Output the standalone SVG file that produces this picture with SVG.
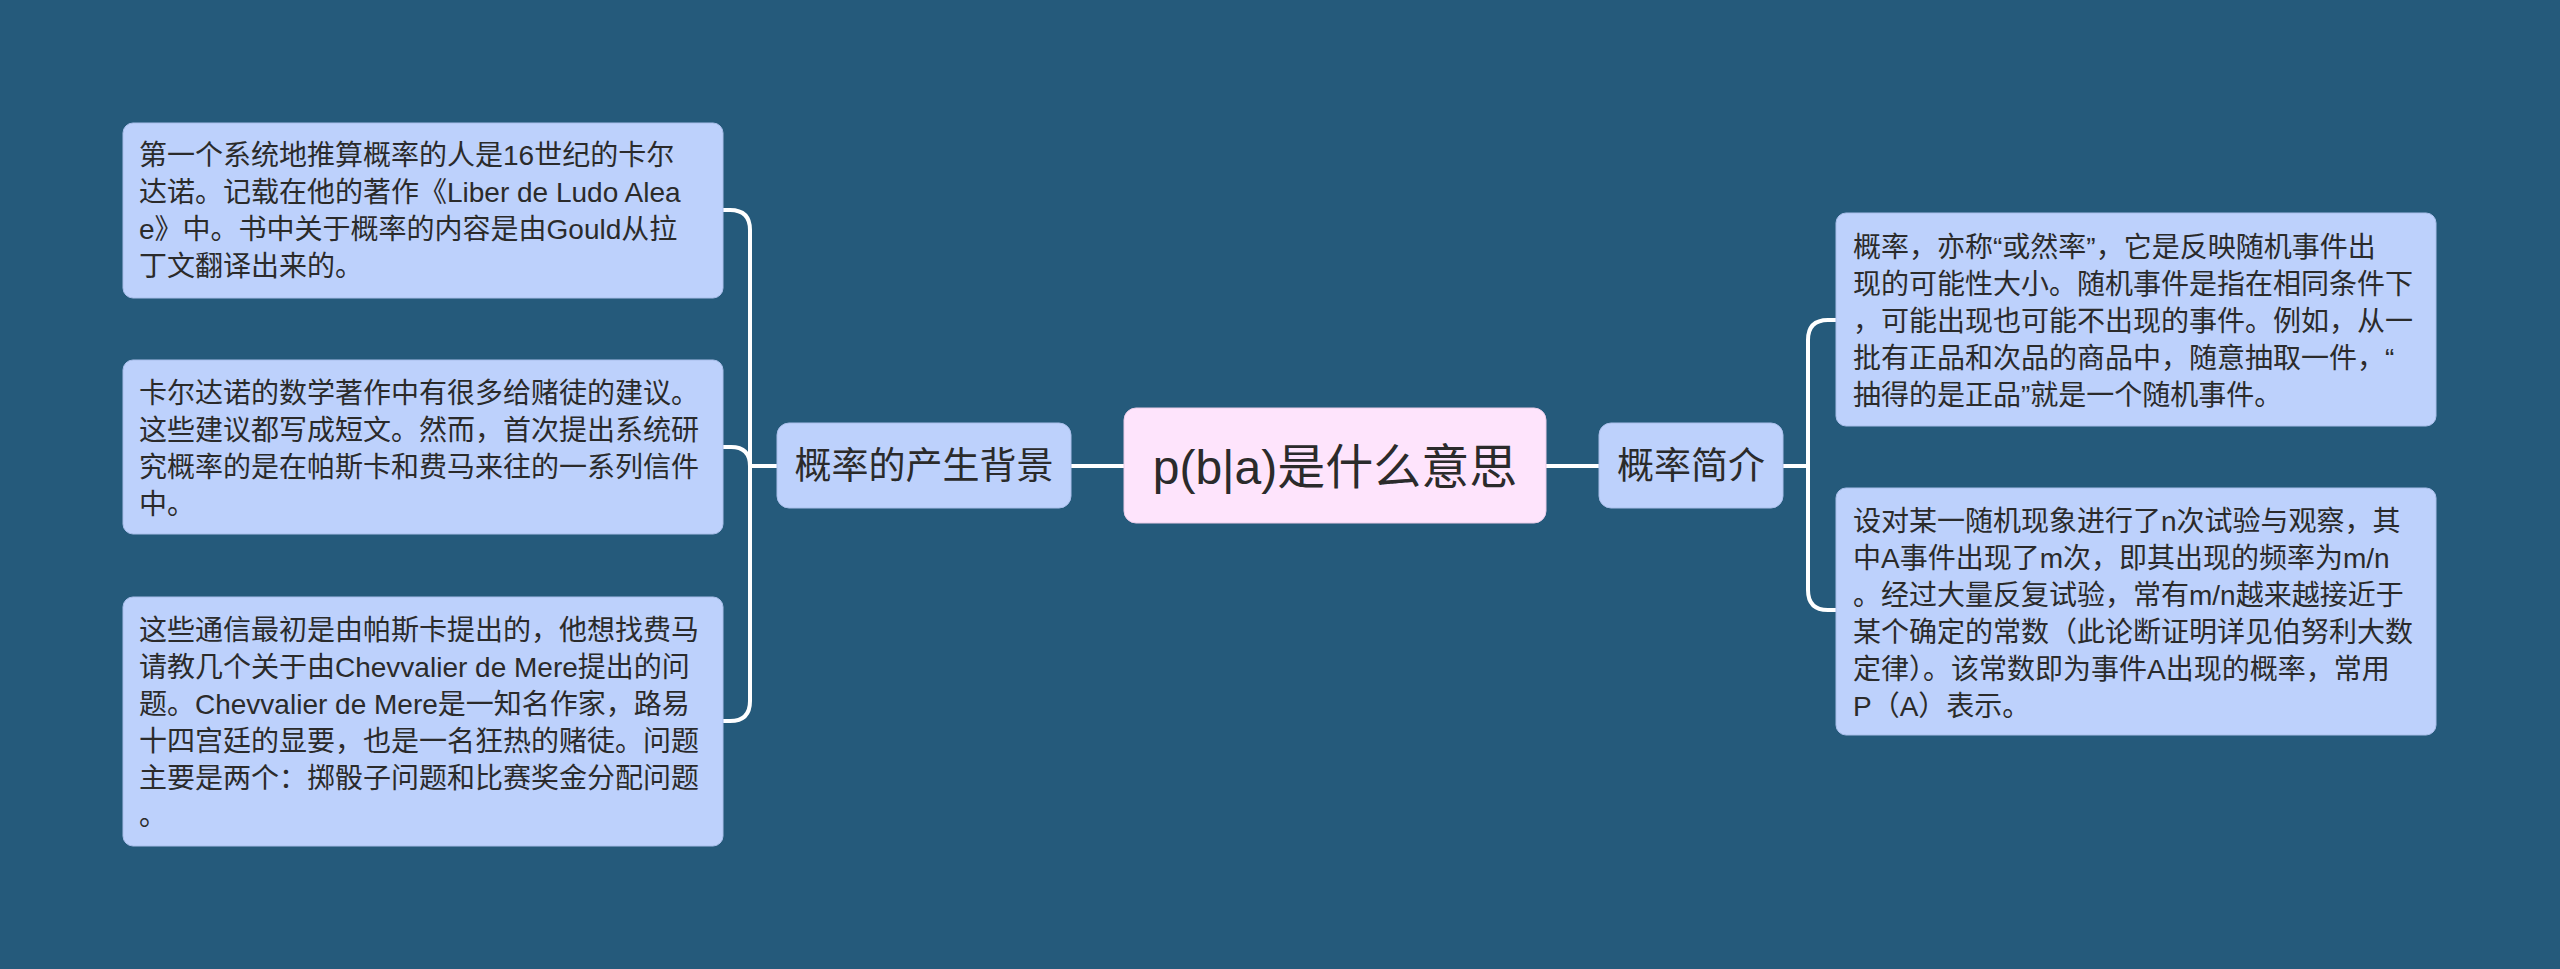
<svg xmlns="http://www.w3.org/2000/svg" width="2560" height="969" viewBox="0 0 2560 969">
<style>
.bg{fill:#255A7B}
.n{fill:#BDD1FC;stroke:#A9BEEA;stroke-width:1}
.c{fill:#FEE4FC;stroke:#E9CCE8;stroke-width:1}
.t{font-family:"Liberation Sans","Noto Sans CJK SC",sans-serif;font-size:28px;fill:#2B2B2B}
.m{font-family:"Liberation Sans","Noto Sans CJK SC",sans-serif;font-size:37px;fill:#2B2B2B;text-anchor:middle}
.r{font-family:"Liberation Sans","Noto Sans CJK SC",sans-serif;font-size:48px;fill:#2B2B2B;text-anchor:middle}
.e{fill:none;stroke:#FFFFFF;stroke-width:4;stroke-linecap:round;stroke-linejoin:round}
</style>
<rect class="bg" x="0" y="0" width="2560" height="969"/>
<g id="connectors">
<path class="e" d="M1124,466 H1071"/>
<path class="e" d="M777,466 H750"/>
<path class="e" d="M750,466 V230 Q750,210 730,210 H723"/>
<path class="e" d="M750,466 Q750,447 731,447 H723"/>
<path class="e" d="M750,466 V701 Q750,721 730,721 H723"/>
<path class="e" d="M1546,466 H1599"/>
<path class="e" d="M1783,466 H1808"/>
<path class="e" d="M1808,466 V340 Q1808,320 1828,320 H1836"/>
<path class="e" d="M1808,466 V590 Q1808,610 1828,610 H1836"/>
</g>
<g id="root">
<rect class="c" x="1124" y="408" width="422" height="115" rx="12"/>
<text class="r" x="1335" y="484">p(b|a)是什么意思</text>
</g>
<g id="bg-node">
<rect class="n" x="777" y="423" width="294" height="85" rx="12"/>
<text class="m" x="924" y="479">概率的产生背景</text>
</g>
<g id="intro-node">
<rect class="n" x="1599" y="423" width="184" height="85" rx="12"/>
<text class="m" x="1691" y="479">概率简介</text>
</g>
<g id="left1">
<rect class="n" x="123" y="123" width="600" height="175" rx="10"/>
<text class="t" x="139" y="165">第一个系统地推算概率的人是16世纪的卡尔</text>
<text class="t" x="139" y="202">达诺。记载在他的著作《Liber de Ludo Alea</text>
<text class="t" x="139" y="239">e》中。书中关于概率的内容是由Gould从拉</text>
<text class="t" x="139" y="276">丁文翻译出来的。</text>
</g>
<g id="left2">
<rect class="n" x="123" y="360" width="600" height="174" rx="10"/>
<text class="t" x="139" y="403">卡尔达诺的数学著作中有很多给赌徒的建议。</text>
<text class="t" x="139" y="440">这些建议都写成短文。然而，首次提出系统研</text>
<text class="t" x="139" y="477">究概率的是在帕斯卡和费马来往的一系列信件</text>
<text class="t" x="139" y="514">中。</text>
</g>
<g id="left3">
<rect class="n" x="123" y="597" width="600" height="249" rx="10"/>
<text class="t" x="139" y="640">这些通信最初是由帕斯卡提出的，他想找费马</text>
<text class="t" x="139" y="677">请教几个关于由Chevvalier de Mere提出的问</text>
<text class="t" x="139" y="714">题。Chevvalier de Mere是一知名作家，路易</text>
<text class="t" x="139" y="751">十四宫廷的显要，也是一名狂热的赌徒。问题</text>
<text class="t" x="139" y="788">主要是两个：掷骰子问题和比赛奖金分配问题</text>
<text class="t" x="139" y="825">。</text>
</g>
<g id="right1">
<rect class="n" x="1836" y="213" width="600" height="213" rx="10"/>
<text class="t" x="1853" y="257">概率，亦称“或然率”，它是反映随机事件出</text>
<text class="t" x="1853" y="294">现的可能性大小。随机事件是指在相同条件下</text>
<text class="t" x="1853" y="331">，可能出现也可能不出现的事件。例如，从一</text>
<text class="t" x="1853" y="368">批有正品和次品的商品中，随意抽取一件，“</text>
<text class="t" x="1853" y="405">抽得的是正品”就是一个随机事件。</text>
</g>
<g id="right2">
<rect class="n" x="1836" y="488" width="600" height="247" rx="10"/>
<text class="t" x="1853" y="531">设对某一随机现象进行了n次试验与观察，其</text>
<text class="t" x="1853" y="568">中A事件出现了m次，即其出现的频率为m/n</text>
<text class="t" x="1853" y="605">。经过大量反复试验，常有m/n越来越接近于</text>
<text class="t" x="1853" y="642">某个确定的常数（此论断证明详见伯努利大数</text>
<text class="t" x="1853" y="679">定律）。该常数即为事件A出现的概率，常用</text>
<text class="t" x="1853" y="716">P（A）表示。</text>
</g>
</svg>
